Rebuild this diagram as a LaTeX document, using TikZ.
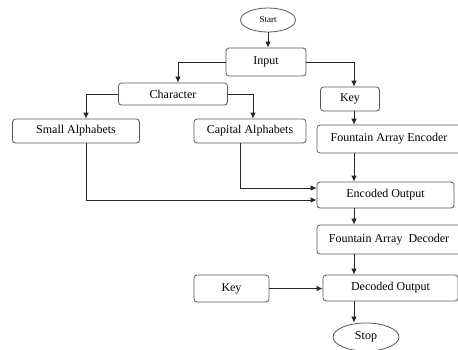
\documentclass[tikz,border=0pt]{standalone}
\usepackage{fontspec}
\setmainfont{Liberation Serif}
\usetikzlibrary{shapes,arrows.meta,positioning,calc}
\tikzset{
    box/.style={draw=black!65, line width=0.8pt, rounded corners=3pt, inner sep=0pt,
                font=\fontsize{12}{14}\selectfont},
    oval/.style={draw=black!65, line width=0.8pt, ellipse, inner sep=0pt},
    flow/.style={draw=black!85, line width=0.8pt, -{Latex[length=6pt,width=5.5pt]}},
}

\begin{document}
\begin{tikzpicture}[x=1pt, y=-1pt]
    \useasboundingbox (0,0) rectangle (458,349);

    % Start and input
    \node[oval, minimum width=55pt, minimum height=24pt, font=\fontsize{9}{11}\selectfont] (start) at (268,20) {Start};
    \node[box, minimum width=80pt, minimum height=28pt] (input) at (266,62) {Input};
    \coordinate (spine) at (354,0);

    % Character branch
    \node[box, minimum width=109pt, minimum height=22pt] (char) at (173,94) {Character};
    \node[box, minimum width=127pt, minimum height=24pt] (small) at (76,131) {Small Alphabets};
    \node[box, minimum width=112pt, minimum height=24pt] (capital) at (250,131) {Capital Alphabets};

    % Key branch
    \node[box, minimum width=59pt, minimum height=24pt] (keyA) at (350,99) {Key};
    \node[box, minimum width=144pt, minimum height=28pt] (encoder) at (389,139) {Fountain Array Encoder};

    % Encoding and decoding
    \node[box, minimum width=137pt, minimum height=26pt] (encoded) at (385.5,195) {Encoded Output};
    \node[box, minimum width=144pt, minimum height=29pt] (decoder) at (389,239.5) {Fountain Array\ \ Decoder};
    \node[box, minimum width=75pt, minimum height=27pt] (keyB) at (231.5,288.5) {Key};
    \node[box, minimum width=135pt, minimum height=26pt] (decoded) at (390.5,288) {Decoded Output};
    \node[oval, minimum width=66pt, minimum height=28pt, font=\fontsize{12}{14}\selectfont] (stop) at (366,337) {Stop};

    % Connectors
    \draw[flow] (start.south) -- (start.south |- input.north);
    \draw[flow] (input.west) -| ([xshift=5pt]char.north);
    \draw[flow] (input.east) -| (keyA.north -| spine);
    \draw[flow] (char.west) -| ([xshift=10pt]small.north);
    \draw[flow] (char.east) -| ([xshift=3pt]capital.north);
    \draw[flow] (keyA.south -| spine) -- (encoder.north -| spine);
    \draw[flow] (encoder.south -| spine) -- (encoded.north -| spine);
    \draw[flow] ([xshift=-10pt]capital.south) |- ([yshift=7pt]encoded.west);
    \draw[flow] ([xshift=10pt]small.south) |- ([yshift=-5pt]encoded.west);
    \draw[flow] (encoded.south -| spine) -- (decoder.north -| spine);
    \draw[flow] (decoder.south -| spine) -- (decoded.north -| spine);
    \draw[flow] (keyB.east) -- (keyB.east -| decoded.west);
    \draw[flow] (decoded.south -| spine) -- (stop.north -| spine);
\end{tikzpicture}
\end{document}
